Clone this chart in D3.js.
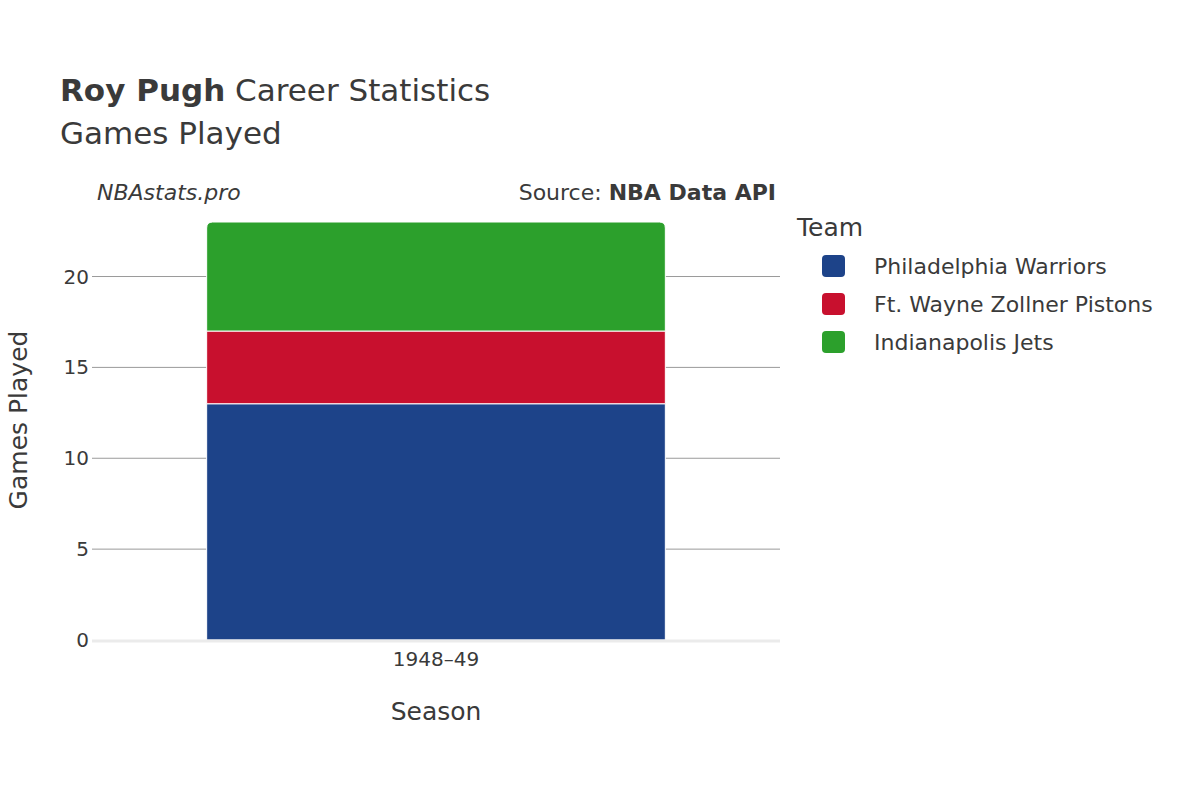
<!DOCTYPE html>
<html><head><meta charset="utf-8">
<script src="https://cdn.jsdelivr.net/npm/d3@7"></script>
<style>body{margin:0;background:#fff}text{font-family:"DejaVu Sans",sans-serif;fill:#3a3a3a}</style>
</head><body><svg id="chart" width="1200" height="800"></svg>
<script>
const seasons = ["1948–49"];
const teams = ["Philadelphia Warriors", "Ft. Wayne Zollner Pistons", "Indianapolis Jets"];
const teamColors = ["#1d4389", "#c8102e", "#2ca02c"];
const gamesPlayed = [[13, 4, 6]]; // per season, per team
const yTicks = [0, 5, 10, 15, 20];

const svg = d3.select("#chart");
const plotLeft = 92, plotRight = 780, plotTop = 222, plotBottom = 640;

const rows = seasons.map((s, i) => {
  const r = { season: s };
  teams.forEach((t, j) => r[t] = gamesPlayed[i][j]);
  return r;
});
const total = d3.max(rows, r => d3.sum(teams, t => r[t]));

const x = d3.scaleBand().domain(seasons).range([plotLeft, plotRight]).padding(0.2);
const y = d3.scaleLinear().domain([0, total]).range([plotBottom, plotTop]);
const color = d3.scaleOrdinal().domain(teams).range(teamColors);

// grid
svg.append("g").selectAll("line").data(yTicks.filter(d => d > 0)).join("line")
  .attr("x1", plotLeft).attr("x2", plotRight).attr("y1", d => y(d)).attr("y2", d => y(d))
  .attr("stroke", "#9a9a9a").attr("stroke-width", 1);

// bars
const stack = d3.stack().keys(teams)(rows);
stack.forEach((layer, li) => {
  layer.forEach(d => {
    const x0 = x(d.data.season), w = x.bandwidth();
    const y0 = y(d[0]), y1 = y(d[1]);
    const last = li === stack.length - 1, r = 6;
    let p;
    if (last) {
      p = `M${x0},${y0}V${y1 + r}Q${x0},${y1} ${x0 + r},${y1}H${x0 + w - r}Q${x0 + w},${y1} ${x0 + w},${y1 + r}V${y0}Z`;
    } else {
      p = `M${x0},${y0}V${y1}H${x0 + w}V${y0}Z`;
    }
    svg.append("path").attr("d", p).attr("fill", color(layer.key))
      .attr("stroke", "#fff").attr("stroke-width", 1);
  });
});

// zero line
svg.append("line").attr("x1", plotLeft).attr("x2", plotRight).attr("y1", y(0) + 1).attr("y2", y(0) + 1)
  .attr("stroke", "#ebebeb").attr("stroke-width", 3);

// tick labels
svg.append("g").selectAll("text").data(yTicks).join("text")
  .attr("x", 89).attr("y", d => y(d) + 7).attr("text-anchor", "end")
  .attr("font-size", 20).text(d => d);
svg.append("g").selectAll("text").data(seasons).join("text")
  .attr("x", d => x(d) + x.bandwidth() / 2).attr("y", 666).attr("text-anchor", "middle")
  .attr("font-size", 20).text(d => d);

// titles
const t = svg.append("text").attr("x", 60).attr("y", 101).attr("font-size", 31);
t.append("tspan").attr("font-weight", "bold").text("Roy Pugh");
t.append("tspan").text(" Career Statistics");
svg.append("text").attr("x", 60).attr("y", 144).attr("font-size", 31).text("Games Played");
svg.append("text").attr("x", 97).attr("y", 200).attr("font-size", 22).attr("font-style", "italic").text("NBAstats.pro");
const s = svg.append("text").attr("x", 776).attr("y", 200).attr("font-size", 22).attr("text-anchor", "end");
s.append("tspan").text("Source: ");
s.append("tspan").attr("font-weight", "bold").text("NBA Data API");
svg.append("text").attr("x", 436).attr("y", 720).attr("text-anchor", "middle").attr("font-size", 25).text("Season");
svg.append("text").attr("transform", "translate(27,420) rotate(-90)").attr("text-anchor", "middle")
  .attr("font-size", 25).text("Games Played");

// legend
svg.append("text").attr("x", 797).attr("y", 236).attr("font-size", 25).text("Team");
const lg = svg.append("g").selectAll("g").data(teams).join("g")
  .attr("transform", (d, i) => `translate(822,${266 + i * 38})`);
lg.append("rect").attr("x", 0).attr("y", -11).attr("width", 23).attr("height", 22).attr("rx", 4)
  .attr("fill", d => color(d));
lg.append("text").attr("x", 52).attr("y", 8).attr("font-size", 22).text(d => d);
</script></body></html>
